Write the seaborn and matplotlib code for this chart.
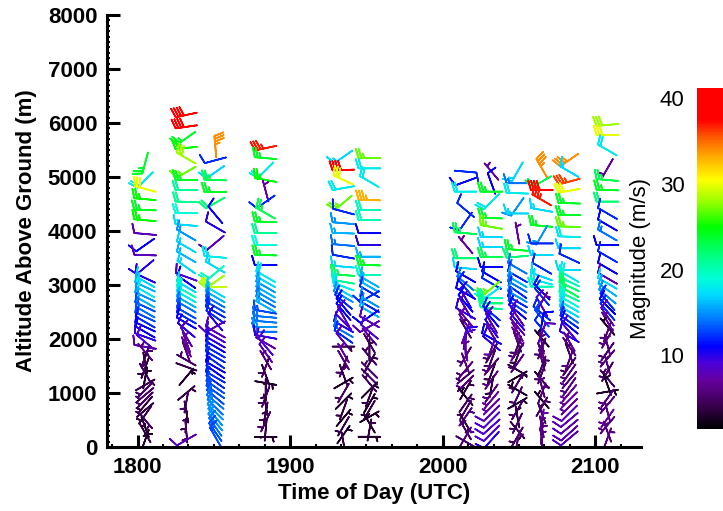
import numpy as np
import pandas as pd
import matplotlib
matplotlib.use("Agg")
import matplotlib.pyplot as plt
import seaborn as sns
from matplotlib.colors import LinearSegmentedColormap, Normalize
from matplotlib.ticker import MultipleLocator, FixedLocator
import matplotlib.cm as cm

# ---------------- data ----------------
times = [18.05, 18.32, 18.51, 18.84, 19.35, 19.52, 20.15, 20.32, 20.49, 20.65, 20.83, 21.08]

h1 = [5260, 4945, 4780, 4590, 4390, 4200, 3945, 3740, 3555, 3330, 3130, 3060, 2965, 2870, 2780, 2685, 2595, 2500, 2410, 2315, 2225, 2130, 2040, 1945, 1855, 1760, 1670, 1555, 1465, 1370, 1280, 1150, 1055, 965, 870, 780, 685, 595, 500, 370, 260, 130]
s1 = [24, 18, 30, 25, 24, 25, 8, 11, 8, 10, 10, 17, 16, 18, 15, 16, 13, 14, 13, 12, 11, 11, 10, 9, 8, 6, 5, 4, 4, 5, 3, 4, 5, 5, 5, 4, 4, 4, 5, 3, 4, 3]
d1 = [195, 225, 285, 275, 272, 275, 275, 235, 272, 230, 295, 300, 295, 300, 295, 300, 295, 300, 295, 300, 295, 300, 290, 310, 280, 320, 20, 350, 200, 330, 10, 60, 225, 230, 225, 220, 230, 215, 140, 160, 330, 20]

h2 = [6150, 5930, 5720, 5540, 5350, 5090, 4945, 4760, 4540, 4330, 4110, 3925, 3705, 3520, 3330, 3150, 3060, 2965, 2870, 2780, 2685, 2595, 2480, 2390, 2295, 2165, 2040, 1945, 1855, 1760, 1610, 1485, 1300, 1000, 835, 650, 465, 280, 130]
s2 = [40, 39, 24, 25, 28, 27, 24, 21, 21, 19, 17, 15, 17, 16, 17, 9, 11, 17, 20, 18, 16, 14, 13, 12, 11, 10, 8, 7, 7, 6, 5, 4, 3, 4, 5, 4, 4, 5, 8]
d2 = [258, 262, 235, 265, 300, 240, 270, 270, 272, 270, 275, 300, 300, 300, 305, 290, 305, 300, 300, 300, 300, 300, 300, 300, 300, 310, 330, 340, 335, 340, 300, 110, 40, 50, 190, 170, 185, 175, 240]

h3 = [5560, 5310, 5090, 4945, 4725, 4520, 4300, 4075, 3780, 3520, 3330, 3220, 3060, 2965, 2870, 2780, 2685, 2595, 2500, 2410, 2315, 2225, 2130, 2040, 1945, 1855, 1760, 1670, 1575, 1480, 1390, 1295, 1205, 1110, 1020, 925, 835, 740, 650, 555, 460, 370, 275, 185]
s3 = [34, 12, 17, 23, 24, 22, 11, 10, 8, 18, 17, 20, 28, 29, 17, 16, 14, 13, 12, 12, 10, 8, 8, 9, 10, 11, 12, 12, 12, 11, 11, 12, 12, 13, 13, 13, 14, 14, 15, 15, 15, 14, 13, 13]
d3 = [355, 255, 235, 272, 270, 240, 320, 300, 230, 275, 300, 230, 235, 270, 300, 300, 300, 300, 300, 305, 320, 240, 300, 300, 300, 300, 300, 300, 305, 300, 305, 300, 305, 305, 305, 310, 310, 315, 315, 320, 320, 325, 325, 330]

h4 = [5535, 5350, 5130, 4945, 4740, 4540, 4330, 4170, 3960, 3740, 3555, 3370, 3155, 3060, 2965, 2870, 2780, 2690, 2600, 2505, 2410, 2320, 2225, 2135, 2040, 1925, 1860, 1740, 1610, 1485, 1335, 1185, 1055, 930, 780, 630, 470, 315, 185]
s4 = [37, 24, 18, 25, 7, 12, 23, 24, 21, 19, 24, 11, 18, 17, 15, 16, 15, 14, 16, 13, 14, 14, 15, 14, 10, 8, 9, 8, 6, 5, 4, 3, 4, 5, 4, 4, 5, 4, 3]
d4 = [258, 275, 225, 280, 345, 235, 300, 272, 270, 270, 272, 270, 300, 300, 300, 300, 300, 300, 300, 280, 275, 275, 270, 270, 280, 300, 320, 325, 330, 200, 160, 100, 180, 200, 170, 190, 205, 185, 90]

h5 = [5375, 5130, 4945, 4795, 4525, 4360, 4145, 3960, 3740, 3525, 3340, 3185, 3060, 2970, 2875, 2785, 2690, 2600, 2505, 2415, 2320, 2230, 2135, 2045, 1950, 1860, 1740, 1610, 1490, 1335, 1185, 1000, 850, 695, 540, 385, 230, 75]
s5 = [17, 38, 30, 18, 27, 12, 15, 16, 14, 12, 17, 23, 21, 18, 17, 15, 12, 11, 11, 9, 9, 10, 14, 12, 8, 4, 7, 6, 5, 4, 3, 5, 3, 4, 3, 4, 3, 4]
d5 = [235, 268, 295, 260, 230, 285, 275, 272, 275, 280, 275, 275, 280, 290, 300, 300, 310, 320, 320, 330, 315, 300, 300, 305, 320, 90, 330, 150, 200, 340, 60, 210, 45, 200, 40, 210, 35, 170]

h6 = [5350, 5160, 4915, 4575, 4390, 4205, 3960, 3740, 3525, 3370, 3185, 3060, 2970, 2875, 2785, 2690, 2600, 2505, 2415, 2320, 2230, 2135, 2045, 1920, 1795, 1675, 1550, 1425, 1300, 1180, 1055, 930, 810, 685, 560, 440, 315, 190]
s6 = [27, 18, 18, 33, 20, 20, 11, 10, 16, 24, 20, 16, 16, 12, 12, 15, 12, 16, 11, 8, 8, 9, 7, 5, 4, 5, 4, 5, 5, 5, 3, 4, 3, 4, 3, 3, 4, 3]
d6 = [270, 270, 300, 272, 270, 270, 270, 270, 270, 272, 270, 300, 300, 300, 240, 300, 300, 300, 235, 300, 240, 310, 320, 330, 0, 320, 30, 315, 315, 320, 45, 200, 30, 210, 60, 330, 10, 90]

h7 = [5100, 4915, 4730, 4390, 4175, 3960, 3740, 3495, 3310, 3155, 3030, 2940, 2845, 2755, 2660, 2570, 2475, 2385, 2290, 2195, 2105, 2010, 1920, 1795, 1675, 1550, 1425, 1300, 1180, 1055, 930, 810, 685, 560, 440, 315, 190, 100]
s7 = [12, 11, 18, 12, 12, 23, 7, 22, 17, 11, 14, 12, 11, 10, 11, 8, 10, 7, 8, 5, 7, 10, 9, 7, 6, 6, 6, 5, 6, 4, 3, 5, 5, 6, 4, 5, 6, 5]
d7 = [95, 250, 270, 310, 215, 275, 320, 270, 275, 300, 310, 320, 300, 330, 320, 330, 300, 320, 325, 330, 20, 10, 0, 350, 210, 160, 220, 230, 225, 30, 320, 35, 210, 35, 150, 330, 30, 120]

h8 = [5100, 4880, 4730, 4545, 4240, 4075, 3890, 3705, 3520, 3335, 3150, 3030, 2940, 2845, 2755, 2660, 2570, 2475, 2385, 2290, 2195, 2105, 2010, 1920, 1825, 1735, 1610, 1490, 1365, 1240, 1115, 995, 870, 745, 625, 500, 375, 255, 130]
s8 = [7, 11, 24, 18, 24, 27, 17, 17, 23, 11, 11, 12, 27, 18, 20, 22, 21, 12, 11, 8, 10, 7, 11, 10, 7, 5, 5, 6, 4, 6, 4, 6, 7, 7, 8, 9, 9, 9, 10]
d8 = [320, 340, 270, 225, 272, 280, 272, 270, 270, 270, 300, 300, 230, 235, 270, 270, 275, 310, 320, 330, 325, 330, 300, 310, 200, 210, 200, 220, 200, 215, 190, 215, 220, 225, 225, 225, 228, 225, 222]

h9 = [5100, 4885, 4700, 4450, 4325, 3960, 3650, 3525, 3310, 3155, 3060, 2970, 2875, 2785, 2690, 2600, 2505, 2415, 2320, 2230, 2135, 2045, 1950, 1860, 1765, 1675, 1550, 1425, 1300, 1180, 1055, 930, 810, 685, 560, 440, 315, 190, 100]
s9 = [17, 14, 18, 15, 17, 7, 24, 22, 14, 12, 16, 14, 12, 15, 12, 13, 11, 8, 10, 8, 7, 7, 6, 5, 6, 4, 6, 4, 3, 5, 3, 5, 3, 5, 4, 5, 4, 5, 6]
d9 = [210, 270, 272, 215, 270, 350, 275, 265, 300, 300, 300, 300, 305, 300, 300, 305, 310, 325, 320, 320, 330, 330, 340, 200, 215, 200, 215, 120, 60, 210, 300, 205, 60, 210, 350, 205, 140, 210, 10]

h10 = [5160, 4915, 4760, 4575, 4390, 4095, 3925, 3770, 3555, 3310, 3155, 3060, 2970, 2875, 2785, 2690, 2600, 2475, 2385, 2290, 2195, 2105, 2010, 1920, 1825, 1735, 1610, 1490, 1365, 1240, 1115, 995, 870, 745, 625, 500, 375, 255, 130]
s10 = [34, 23, 39, 37, 17, 24, 15, 12, 17, 12, 17, 18, 20, 11, 12, 7, 8, 12, 13, 11, 12, 8, 3, 6, 5, 6, 6, 5, 5, 4, 6, 6, 3, 5, 5, 7, 6, 6, 6]
d10 = [330, 240, 270, 300, 280, 275, 210, 270, 270, 300, 290, 285, 270, 315, 320, 30, 330, 310, 320, 10, 320, 20, 320, 350, 200, 340, 345, 20, 200, 320, 345, 20, 320, 30, 340, 10, 350, 5, 355]

h11 = [5315, 5100, 4915, 4745, 4515, 4295, 4080, 3895, 3680, 3495, 3280, 3155, 3060, 2970, 2875, 2785, 2690, 2600, 2505, 2415, 2320, 2230, 2135, 2045, 1950, 1860, 1735, 1610, 1490, 1365, 1240, 1115, 995, 870, 745, 625, 500, 375, 255, 160]
s11 = [34, 17, 36, 30, 24, 24, 27, 18, 17, 12, 17, 18, 20, 22, 23, 21, 19, 18, 17, 14, 12, 11, 9, 10, 7, 6, 5, 6, 5, 6, 6, 6, 7, 7, 7, 8, 8, 8, 8, 8]
d11 = [235, 300, 255, 260, 272, 270, 272, 272, 270, 295, 270, 300, 295, 295, 300, 295, 300, 300, 300, 305, 305, 310, 320, 300, 330, 325, 340, 200, 215, 215, 220, 215, 220, 225, 225, 225, 230, 230, 228, 230]

h12 = [5965, 5780, 5500, 5160, 4945, 4760, 4545, 4325, 4110, 3925, 3740, 3525, 3310, 3125, 3030, 2910, 2785, 2690, 2600, 2505, 2415, 2320, 2230, 2135, 2010, 1890, 1765, 1640, 1520, 1395, 1270, 1150, 1025, 900, 780, 655, 530, 405, 285, 160]
s12 = [28, 30, 18, 7, 23, 24, 22, 12, 11, 14, 11, 12, 11, 8, 17, 16, 15, 12, 11, 12, 8, 7, 3, 6, 6, 6, 5, 6, 6, 5, 5, 3, 3, 6, 6, 6, 7, 6, 6, 6]
d12 = [265, 270, 300, 210, 275, 272, 270, 300, 300, 300, 270, 300, 300, 300, 300, 305, 310, 320, 315, 320, 325, 330, 320, 200, 210, 345, 215, 220, 345, 210, 320, 340, 80, 215, 220, 345, 215, 220, 340, 20]

x_ticks = [18, 19, 20, 21]
x_tick_labels = ["1800", "1900", "2000", "2100"]
y_ticks = [0, 1000, 2000, 3000, 4000, 5000, 6000, 7000, 8000]
cbar_ticks = [10, 20, 30, 40]
speed_min, speed_max = 1.4, 41.2

heights = [h1, h2, h3, h4, h5, h6, h7, h8, h9, h10, h11, h12]
speeds = [s1, s2, s3, s4, s5, s6, s7, s8, s9, s10, s11, s12]
dirs = [d1, d2, d3, d4, d5, d6, d7, d8, d9, d10, d11, d12]

rows = []
for t, hh, ss, dd in zip(times, heights, speeds, dirs):
    for h, s, d in zip(hh, ss, dd):
        rows.append((t, h, s, d))
df = pd.DataFrame(rows, columns=["time", "height", "speed", "direction"])
rad = np.deg2rad(df["direction"].to_numpy())
df["u"] = -df["speed"] * np.sin(rad)
df["v"] = -df["speed"] * np.cos(rad)

# ---------------- style ----------------
sns.set_theme(style="ticks")
plt.rcParams["font.family"] = ["Liberation Sans", "DejaVu Sans"]
plt.rcParams["text.color"] = "black"
plt.rcParams["axes.labelcolor"] = "black"
plt.rcParams["xtick.color"] = "black"
plt.rcParams["ytick.color"] = "black"

anchors = [
    (1.4, (0.0, 0.0, 0.0)),
    (4.0, (0.22, 0.0, 0.30)),
    (7.0, (0.40, 0.0, 0.62)),
    (9.0, (0.30, 0.0, 0.85)),
    (11.0, (0.0, 0.0, 1.0)),
    (14.0, (0.0, 0.45, 1.0)),
    (17.0, (0.0, 0.85, 1.0)),
    (19.0, (0.0, 1.0, 0.85)),
    (22.0, (0.0, 1.0, 0.45)),
    (25.0, (0.0, 1.0, 0.0)),
    (28.0, (0.6, 1.0, 0.0)),
    (30.5, (1.0, 1.0, 0.0)),
    (33.0, (1.0, 0.7, 0.0)),
    (35.5, (1.0, 0.35, 0.0)),
    (37.5, (1.0, 0.0, 0.0)),
    (41.2, (1.0, 0.0, 0.0)),
]
cmap = LinearSegmentedColormap.from_list(
    "rainbow_idl",
    [((v - speed_min) / (speed_max - speed_min), c) for v, c in anchors])
norm = Normalize(vmin=speed_min, vmax=speed_max)

fig = plt.figure(figsize=(7.23, 5.11), dpi=100)
ax = fig.add_axes([0.148, 0.1252, 0.7386, 0.8454])

ax.barbs(df["time"], df["height"], df["u"], df["v"], df["speed"],
         cmap=cmap, norm=norm, length=5.6, pivot="middle", linewidth=1.2,
         sizes=dict(emptybarb=0.0, spacing=0.13, height=0.42))

ax.set_xlim(17.8, 21.3)
ax.set_ylim(0, 8000)
ax.set_xticks(x_ticks)
ax.set_xticklabels(x_tick_labels)
ax.set_yticks(y_ticks)
ax.set_yticklabels([str(v) for v in y_ticks])
ax.xaxis.set_minor_locator(MultipleLocator(1 / 6))
ax.yaxis.set_minor_locator(MultipleLocator(100))
for side in ["top", "right"]:
    ax.spines[side].set_visible(False)
for side in ["left", "bottom"]:
    ax.spines[side].set_linewidth(2.2)
    ax.spines[side].set_color("black")
ax.tick_params(which="major", direction="in", length=9, width=2.2, colors="black",
               labelcolor="black", labelsize=16, pad=7)
ax.tick_params(which="minor", direction="in", length=2.5, width=1.5, colors="black")
for lab in ax.get_xticklabels() + ax.get_yticklabels():
    lab.set_fontweight("bold")
    lab.set_color("black")
ax.set_xlabel("Time of Day (UTC)", fontsize=16, fontweight="bold", labelpad=4, color="black")
ax.set_ylabel("Altitude Above Ground (m)", fontsize=16, fontweight="bold", labelpad=8, color="black")
ax.set_facecolor("white")
ax.grid(False)

# colorbar
cax = fig.add_axes([0.964, 0.1605, 0.05, 0.667])
sm = cm.ScalarMappable(norm=norm, cmap=cmap)
cb = fig.colorbar(sm, cax=cax, ticks=cbar_ticks)
cb.outline.set_visible(False)
cax.yaxis.set_ticks_position("left")
cax.yaxis.set_label_position("left")
cax.yaxis.set_minor_locator(FixedLocator(np.arange(2, 41, 2)))
cax.tick_params(which="major", direction="in", length=4, width=1, colors="black",
                labelcolor="black", labelsize=16, pad=9, left=True, right=False)
cax.tick_params(which="minor", direction="in", length=2, width=0.8, colors="black",
                left=True, right=False)
cb.set_label("Magnitude (m/s)", fontsize=16, labelpad=6, color="black")

fig.savefig("out.png", dpi=100, facecolor="white")
